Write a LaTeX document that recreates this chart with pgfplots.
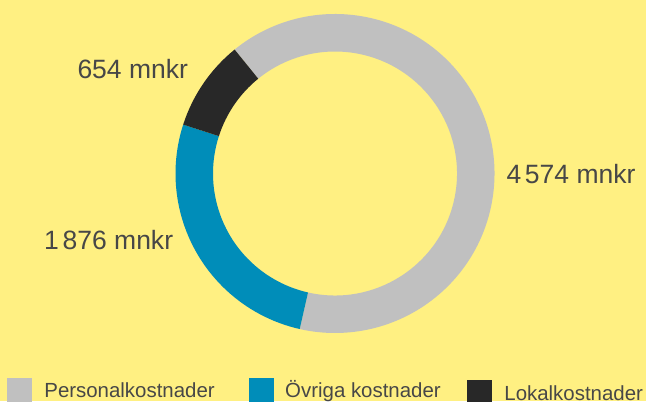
\documentclass[border=0pt]{standalone}
\usepackage{pgfplots}
\pgfplotsset{compat=1.18}
\usepackage{fontspec}
\setmainfont{Liberation Sans}
\definecolor{bg}{HTML}{FFF082}
\definecolor{cP}{HTML}{C0C0C0}
\definecolor{cO}{HTML}{008DB9}
\definecolor{cL}{HTML}{282828}
\definecolor{txt}{HTML}{474747}
% data (mnkr)
\def\vP{4574}
\def\vO{1876}
\def\vL{654}
\pgfmathsetmacro\total{\vP+\vO+\vL}
\def\startang{129}
\pgfmathsetmacro\aP{\startang-360*(\vP/\total)}
\pgfmathsetmacro\aO{\aP-360*(\vO/\total)}
\pgfmathsetmacro\aL{\aO-360*(\vL/\total)}
\newcommand\sector[3]{%
  \fill[#3] (axis cs:335,227.5) ++(#1:159.5bp) arc[start angle=#1,end angle=#2,radius=159.5bp]
    -- ++(#2:-37.5bp) arc[start angle=#2,end angle=#1,radius=122bp] -- cycle;}
\begin{document}
\begin{tikzpicture}[x=1bp,y=1bp]
\clip (0,0) rectangle (646,401);
\fill[bg] (0,0) rectangle (646,401);
\begin{axis}[at={(0,0)},anchor=south west,scale only axis,width=646bp,height=401bp,
  xmin=0,xmax=646,ymin=0,ymax=401,hide axis,clip=false]
\sector{\startang}{\aP}{cP}
\sector{\aP}{\aO}{cO}
\sector{\aO}{\aL}{cL}
\tikzset{lab/.style={anchor=base west,inner sep=0pt,text=txt,font=\fontsize{26.6}{30}\selectfont}}
\node[lab] at (axis cs:77.3,322.7) {654 mnkr};
\node[lab] at (axis cs:506.3,217.7) {4\kern0.14em574 mnkr};
\node[lab] at (axis cs:44,152) {1\kern0.14em876 mnkr};
\tikzset{leg/.style={anchor=base west,inner sep=0pt,text=txt,font=\fontsize{20.5}{24}\selectfont}}
\fill[cP] (axis cs:7.3,-2) rectangle (axis cs:31.7,22.7);
\node[leg] at (axis cs:44.2,3.7) {Personalkostnader};
\fill[cO] (axis cs:249,-2) rectangle (axis cs:273.6,22.7);
\node[leg] at (axis cs:285,3.7) {Övriga kostnader};
\fill[cL] (axis cs:467.3,-2) rectangle (axis cs:491.7,21);
\node[leg] at (axis cs:504.2,0.6) {Lokalkostnader};
\end{axis}
\end{tikzpicture}
\end{document}
